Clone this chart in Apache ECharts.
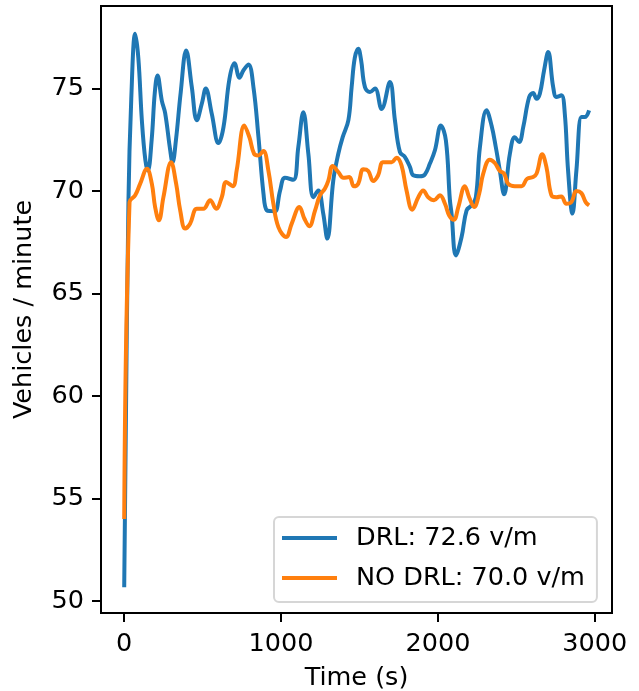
<!DOCTYPE html>
<html>
<head>
<meta charset="utf-8">
<script src="https://cdn.jsdelivr.net/npm/echarts@6/dist/echarts.min.js"></script>
<style>
html,body{margin:0;padding:0;background:#fff;}
#chart{width:639px;height:691px;}
</style>
</head>
<body>
<div id="chart"></div>
<script>
const drlTime = [0,27,45,70,90,113,135,151,175,195,212,240,261,293,308,330,360,395,431,463,495,520,558,601,633,671,703,735,760,792,824,856,888,909,940,962,994,1025,1078,1110,1142,1174,1206,1237,1269,1295,1333,1365,1393,1429,1450,1470,1492,1510,1535,1567,1599,1641,1694,1726,1758,1790,1822,1843,1885,1917,1949,1981,2019,2051,2076,2087,2115,2151,2183,2214,2242,2268,2310,2342,2369,2395,2422,2459,2490,2518,2544,2582,2607,2629,2650,2677,2703,2735,2756,2787,2809,2830,2858,2883,2915,2936,2964];
const drlValues = [50.67,69.5,74.5,77.68,76.5,73.4,71.5,71.0,72.5,74.8,75.64,74.4,73.8,72.0,71.4,72.5,74.8,76.86,75.07,73.45,74.27,75.0,73.78,72.34,73.12,75.48,76.24,75.53,75.89,76.18,75.07,72.63,69.87,69.06,69.02,69.0,70.03,70.65,70.55,72.15,73.85,71.82,69.7,70.03,68.9,67.68,70.52,71.82,72.63,73.45,75.07,76.5,76.95,76.4,75.07,74.83,75.0,74.0,75.32,73.45,71.9,71.66,71.17,70.77,70.72,70.81,71.34,71.99,73.2,72.47,69.6,68.9,66.86,67.76,69.06,69.3,69.7,72.15,73.94,73.2,72.15,71.0,69.84,71.82,72.63,72.39,73.12,74.59,74.78,74.5,74.75,75.89,76.78,75.07,74.59,74.67,73.78,71.0,68.9,71.0,73.61,73.61,73.94];

const noDrlTime = [0,34,70,102,145,176,197,221,250,299,331,357,389,420,463,505,548,586,622,650,692,717,766,798,828,855,887,919,951,983,1032,1068,1117,1149,1180,1217,1248,1280,1302,1329,1365,1397,1435,1465,1492,1524,1556,1587,1619,1648,1677,1705,1737,1768,1800,1836,1875,1906,1938,1975,2013,2045,2072,2102,2130,2172,2199,2231,2263,2289,2331,2363,2395,2422,2448,2490,2533,2569,2607,2629,2665,2692,2724,2756,2787,2819,2851,2883,2915,2942,2964];
const noDrlValues = [54.0,69.46,69.79,70.36,71.09,70.36,69.22,68.57,69.7,71.41,70.36,69.06,68.17,68.41,69.14,69.14,69.55,69.14,69.7,70.44,70.24,71.01,73.2,72.63,71.82,71.74,71.95,71.01,69.38,68.24,67.76,68.41,69.22,68.65,68.28,69.06,69.79,70.12,70.52,71.22,70.93,70.65,70.68,70.23,70.36,71.06,70.98,70.49,70.77,71.41,71.41,71.41,71.63,71.25,70.03,69.09,69.7,70.03,69.7,69.55,69.79,69.38,68.81,68.6,69.22,70.24,69.7,69.22,69.87,70.85,71.53,71.37,70.98,70.85,70.36,70.24,70.24,70.6,70.68,70.85,71.79,71.17,69.79,69.7,69.74,69.38,69.46,70.0,69.9,69.46,69.3];

const seriesNames = ['DRL: 72.6 v/m', 'NO DRL: 70.0 v/m'];
const xTicks = [0, 1000, 2000, 3000];
const yTicks = [50, 55, 60, 65, 70, 75];
const xLabel = 'Time (s)';
const yLabel = 'Vehicles / minute';

const zip = (a, b) => a.map((v, i) => [v, b[i]]);
const FONT = 'DejaVu Sans';
const FS = 25.5;

const chart = echarts.init(document.getElementById('chart'), null, {renderer: 'canvas'});
chart.setOption({
  animation: false,
  backgroundColor: '#fff',
  textStyle: {fontFamily: FONT, color: '#000'},
  grid: {left: 101, top: 6, width: 511, height: 607, outerBoundsMode: 'none', containLabel: false, show: true, borderColor: '#000', borderWidth: 2, backgroundColor: 'transparent'},
  xAxis: {
    type: 'value', min: -148, max: 3110,
    splitLine: {show: false},
    axisLine: {show: false, onZero: false},
    axisTick: {show: true, length: 9, lineStyle: {color: '#000', width: 2}, customValues: xTicks},
    axisLabel: {color: '#000', fontSize: FS, fontFamily: FONT, margin: 18, customValues: xTicks, formatter: v => String(v)},
    name: xLabel, nameLocation: 'middle', nameGap: 52,
    nameTextStyle: {color: '#000', fontSize: FS, fontFamily: FONT}
  },
  yAxis: {
    type: 'value', min: 49.41, max: 79.03,
    splitLine: {show: false},
    axisLine: {show: false, onZero: false},
    axisTick: {show: true, length: 9, lineStyle: {color: '#000', width: 2}, customValues: yTicks},
    axisLabel: {color: '#000', fontSize: FS, fontFamily: FONT, margin: 17, customValues: yTicks, formatter: v => String(v)},
    name: yLabel, nameLocation: 'middle', nameGap: 64, nameRotate: 90,
    nameTextStyle: {color: '#000', fontSize: FS, fontFamily: FONT}
  },
  legend: {
    orient: 'vertical', left: 274, top: 517,
    padding: [8, 12, 11, 8],
    itemWidth: 55, itemHeight: 4, itemGap: 14,
    icon: 'rect',
    backgroundColor: 'rgba(255,255,255,0.8)',
    borderColor: '#d6d6d6', borderWidth: 2, borderRadius: 5,
    textStyle: {fontSize: FS, fontFamily: FONT, color: '#000', padding: [0, 0, 0, 14], lineHeight: 25},
    data: seriesNames
  },
  series: [
    {name: seriesNames[0], type: 'line', data: zip(drlTime, drlValues), showSymbol: false, smooth: 0.4,
     lineStyle: {color: '#1f77b4', width: 4}, itemStyle: {color: '#1f77b4'}, z: 2},
    {name: seriesNames[1], type: 'line', data: zip(noDrlTime, noDrlValues), showSymbol: false, smooth: 0.4,
     lineStyle: {color: '#ff7f0e', width: 4}, itemStyle: {color: '#ff7f0e'}, z: 3}
  ]
});
</script>
</body>
</html>
